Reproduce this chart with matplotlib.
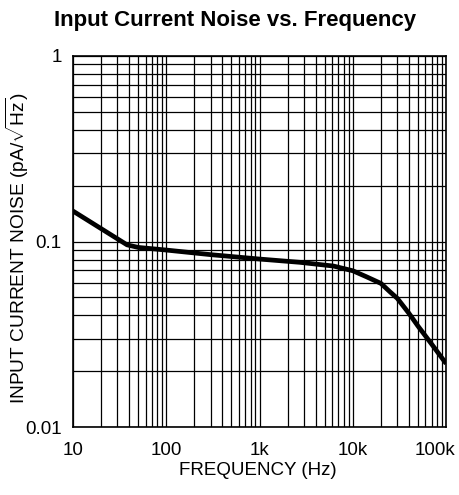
import numpy as np
import matplotlib
matplotlib.use('Agg')
import matplotlib.pyplot as plt
import matplotlib.transforms as mtransforms
from matplotlib.ticker import FixedLocator, LogLocator, NullFormatter

plt.rcParams['font.family'] = ['Liberation Sans', 'DejaVu Sans']
plt.rcParams['mathtext.fontset'] = 'custom'
plt.rcParams['mathtext.rm'] = 'Liberation Sans'

# data
freq = [10, 38, 50, 100, 300, 1000, 2700, 6200, 10000, 14000, 20000, 25000, 30000,
        40000, 50000, 70000, 100000]
noise = [0.146, 0.096, 0.093, 0.090, 0.085, 0.0805, 0.0773, 0.0738, 0.0696, 0.0646, 0.0595, 0.0536, 0.0494,
         0.041, 0.035, 0.028, 0.022]

xticks = [10, 100, 1000, 10000, 100000]
xlabels = ['10', '100', '1k', '10k', '100k']
yticks = [0.01, 0.1, 1]
ylabels = ['0.01', '0.1', '1']

fig = plt.figure(figsize=(4.59, 4.95), dpi=100)
ax = fig.add_axes([0.159, 0.137, 0.813, 0.750])

ax.plot(freq, noise, color='black', lw=3.4, solid_capstyle='butt', solid_joinstyle='round')
ax.set_xscale('log')
ax.set_yscale('log')
ax.set_xlim(10, 100000)
ax.set_ylim(0.01, 1)

ax.xaxis.set_major_locator(FixedLocator(xticks))
ax.set_xticklabels(xlabels)
ax.yaxis.set_major_locator(FixedLocator(yticks))
ax.set_yticklabels(ylabels)
ax.xaxis.set_minor_locator(LogLocator(base=10, subs=np.arange(2, 10)))
ax.yaxis.set_minor_locator(LogLocator(base=10, subs=np.arange(2, 10)))
ax.xaxis.set_minor_formatter(NullFormatter())
ax.yaxis.set_minor_formatter(NullFormatter())

ax.grid(True, which='both', color='black', lw=0.9)
ax.tick_params(which='both', length=0, labelsize=13.5)
ax.tick_params(axis='x', pad=11)
ax.tick_params(axis='y', pad=8)
for s in ax.spines.values():
    s.set_linewidth(1.2)

# last x label sits pulled in so it stays on the page
last = ax.get_xticklabels()[-1]
last.set_horizontalalignment('right')
last.set_transform(last.get_transform() + mtransforms.ScaledTranslation(9 / 100, 0, fig.dpi_scale_trans))

fig.text(0.562, 0.049, 'FREQUENCY (Hz)', ha='center', va='center', fontsize=13.5)
fig.text(0.039, 0.499, r'INPUT CURRENT NOISE (pA/$\sqrt{\mathrm{Hz}}$)', ha='center', va='center',
         rotation=90, fontsize=13.8)
fig.text(0.512, 0.959, 'Input Current Noise vs. Frequency', ha='center', va='center',
         fontsize=16, fontweight='bold')

fig.savefig('out.png', dpi=100)
